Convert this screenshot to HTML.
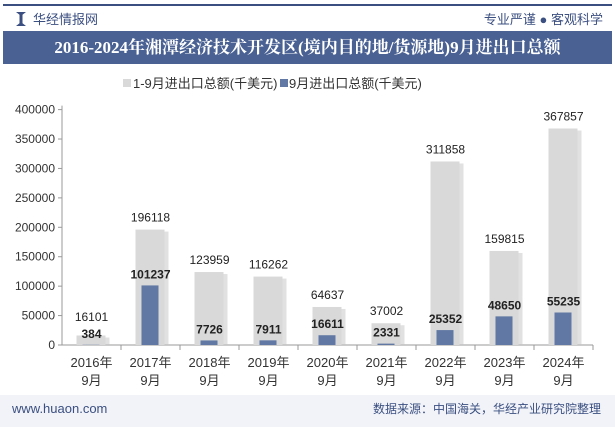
<!DOCTYPE html>
<html><head><meta charset="utf-8"><style>
body{margin:0;width:615px;height:427px;overflow:hidden;background:#fff;font-family:"Liberation Sans","Noto Sans CJK SC",sans-serif;position:relative}
.hdr{position:absolute;left:0;top:0;width:615px;height:31px}
.title{position:absolute;left:3px;top:31px;width:609px;height:33px;background:#4a6193;color:#fff;font-weight:bold;font-size:17px;line-height:33px;text-align:center;font-family:"Liberation Serif","Noto Serif CJK SC",serif}
.foot{position:absolute;left:0;top:395px;width:615px;height:32px;background:#f1f3f8;font-size:12px;line-height:26px}
</style></head><body>
<div class="hdr">
<div style="position:absolute;left:3px;top:4px;width:609px;height:2px;background:#3b4f80"></div>
<div style="position:absolute;left:16px;top:12px;width:10px;height:14px;background:#3b4f80;clip-path:polygon(0 0,35% 20%,35% 80%,0 100%,100% 100%,65% 80%,65% 20%,100% 0)"></div>
<div style="position:absolute;left:33px;top:9px;font-size:13px;color:#3b4f80">华经情报网</div>
<div style="position:absolute;right:12px;top:9px;font-size:13px;color:#3b4f80">专业严谨 ● 客观科学</div>
</div>
<div class="title">2016-2024年湘潭经济技术开发区(境内目的地/货源地)9月进出口总额</div>
<svg id="c" width="615" height="427" style="position:absolute;left:0;top:0"></svg>
<div class="foot">
<span style="position:absolute;left:12px;top:1px;color:#3b4f80;font-size:13px">www.huaon.com</span>
<span style="position:absolute;right:14px;top:1px;color:#3b4f80">数据来源：中国海关，华经产业研究院整理</span>
</div>
<script>
const categories=["2016年","2017年","2018年","2019年","2020年","2021年","2022年","2023年","2024年"];
const totalValues=[16101,196118,123959,116262,64637,37002,311858,159815,367857];
const septValues=[384,101237,7726,7911,16611,2331,25352,48650,55235];
const yTicks=[0,50000,100000,150000,200000,250000,300000,350000,400000];
const svg=document.getElementById('c');const NS='http://www.w3.org/2000/svg';
const x0=62,x1=593,yb=345,yt=109.6,ymax=400000;
const bw=(x1-x0)/categories.length;
const y=v=>yb-(v/ymax)*(yb-yt);
const cx=i=>x0+bw*(i+0.5);
function mk(t,a,txt){const e=document.createElementNS(NS,t);for(const k in a)e.setAttribute(k,a[k]);if(txt!=null)e.textContent=txt;svg.appendChild(e);return e;}
let e;
e=mk('rect',{x:123,y:79,width:8,height:8,fill:'#d9d9d9'});

e=mk('text',{x:133,y:88,'font-size':13,fill:'#333'},'1-9月进出口总额(千美元)');

e=mk('rect',{x:280,y:79,width:8,height:8,fill:'#6078a3'});

e=mk('text',{x:289,y:88,'font-size':13,fill:'#333'},'9月进出口总额(千美元)');

e=mk('line',{x1:x0,y1:yt-4,x2:x0,y2:yb,stroke:'#999'});

yTicks.forEach(t=>{
 e=mk('line',{x1:x0-4,y1:y(t),x2:x0,y2:y(t),stroke:'#999'});
 
 e=mk('text',{x:x0-7,y:y(t)+4,'font-size':12,fill:'#333','text-anchor':'end'},String(t));
 
});
e=mk('line',{x1:x0,y1:yb,x2:x1,y2:yb,stroke:'#999'});

categories.forEach((c,i)=>{
 const xc=cx(i);
 e=mk('line',{x1:x0+bw*(i+1),y1:yb,x2:x0+bw*(i+1),y2:yb+5,stroke:'#999'});
 
 e=mk('rect',{x:xc-14+3,y:y(totalValues[i])+2,width:29,height:yb-y(totalValues[i])-2,fill:'#c4c4c4',opacity:0.5});
 
 e=mk('rect',{x:xc-15,y:y(totalValues[i]),width:29,height:yb-y(totalValues[i]),fill:'#d9d9d9'});
 
 e=mk('rect',{x:xc-9,y:y(septValues[i]),width:17,height:yb-y(septValues[i]),fill:'#6078a3'});
 
 const sy=y(septValues[i])-7;
 const ty=Math.min(y(totalValues[i])-8,sy-17);
 e=mk('text',{x:xc,y:ty,'font-size':12,fill:'#222','text-anchor':'middle'},String(totalValues[i]));
 
 e=mk('text',{x:xc,y:sy,'font-size':12,'font-weight':'bold',fill:'#222','text-anchor':'middle'},String(septValues[i]));
 
 e=mk('text',{x:xc,y:367,'font-size':13,fill:'#333','text-anchor':'middle'},c);
 
 e=mk('text',{x:xc,y:385,'font-size':13,fill:'#333','text-anchor':'middle'},'9月');
 
});
</script>
</body></html>
